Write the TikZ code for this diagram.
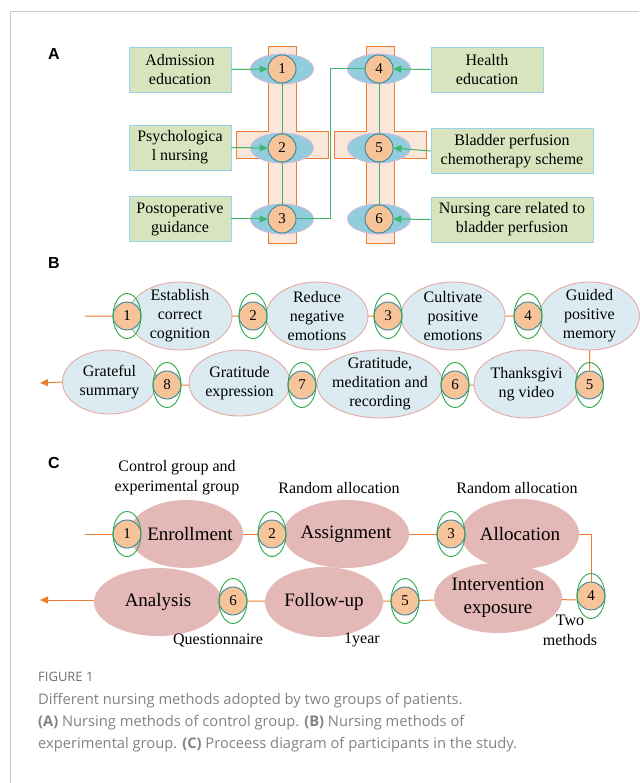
\documentclass[tikz,border=0pt]{standalone}
\usepackage{fontspec}
\setmainfont{Liberation Serif}
\newfontfamily\labfont{Liberation Sans}
\newfontfamily\capfont{Open Sans}
\usetikzlibrary{shapes.geometric,arrows.meta,backgrounds}
\definecolor{boxgreen}{HTML}{D7E4BD}
\definecolor{boxblue}{HTML}{9DD3E6}
\definecolor{crossfill}{HTML}{FBE6DA}
\definecolor{orangeL}{HTML}{ED7D31}
\definecolor{ellblue}{HTML}{93CDDD}
\definecolor{ellrim}{HTML}{D7B7DA}
\definecolor{circfill}{HTML}{F7C499}
\definecolor{circrim}{HTML}{31849B}
\definecolor{gline}{HTML}{3DB56A}
\definecolor{gring}{HTML}{2BAA4A}
\definecolor{bfill}{HTML}{DBEBF1}
\definecolor{brim}{HTML}{E5A9A3}
\definecolor{cfill}{HTML}{E3B8B6}
\definecolor{framegray}{HTML}{CCCCCC}
\definecolor{capgray}{HTML}{808285}
\definecolor{capdark}{HTML}{6D6E71}
\begin{document}
\begin{tikzpicture}[x=1pt,y=-1pt,
 abox/.style={draw=boxblue, fill=boxgreen, line width=0.9pt, inner sep=0, align=center, font=\fontsize{16}{19}\selectfont, minimum height=45},
 aell/.style={ellipse, draw=ellrim, fill=ellblue, line width=0.8pt, minimum width=63, minimum height=30, inner sep=0},
 num/.style={circle, draw=circrim, fill=circfill, line width=0.9pt, minimum size=28, inner sep=0, font=\fontsize{15}{15}\selectfont},
 numring/.style={ellipse, draw=gring, line width=0.9pt, minimum width=28, minimum height=45, inner sep=0},
 garrow/.style={draw=gline, line width=1pt, -{Triangle[length=8pt,width=7pt]}},
 gln/.style={draw=gline, line width=1pt},
 oln/.style={draw=orangeL, line width=1pt},
 oarrow/.style={draw=orangeL, line width=1pt, -{Triangle[length=8pt,width=7pt]}},
 bell/.style={ellipse, draw=brim, fill=bfill, line width=0.9pt, inner sep=0},
 cell/.style={ellipse, fill=cfill, inner sep=0},
 btxt/.style={align=center, font=\fontsize{16}{19}\selectfont, inner sep=0},
 ctxt/.style={align=center, font=\fontsize{19}{23}\selectfont, inner sep=0},
 lbl/.style={align=center, font=\fontsize{16}{20}\selectfont, inner sep=0},
 panel/.style={font=\labfont\bfseries\fontsize{16}{16}\selectfont, inner sep=0},
 crossbar/.style={draw=orangeL, fill=crossfill, line width=1pt},
 captxt/.style={anchor=base west, inner sep=0, text=capgray, font=\capfont\fontsize{14.7}{14.7}\selectfont},
]
\useasboundingbox (0,0) rectangle (639,783);
\draw[framegray, line width=0.8pt] (10,783) -- (10,11) -- (639,11);

% ---------- Panel A ----------
\node[panel] (pa) at (54,54) {A};
\draw[crossbar] (268,47) -- (296,47) -- (296,132) -- (328,132) -- (328,159) -- (296,159) -- (296,244) -- (268,244) -- (268,159) -- (236,159) -- (236,132) -- (268,132) -- cycle;
\draw[crossbar] (366,47) -- (394,47) -- (394,132) -- (426,132) -- (426,159) -- (394,159) -- (394,244) -- (366,244) -- (366,159) -- (334,159) -- (334,132) -- (366,132) -- cycle;

\node[abox, minimum width=102] (a1) at (180,69.5) {Admission\\education};
\node[abox, minimum width=102] (a2) at (180,147.5) {Psychologica\\l nursing};
\node[abox, minimum width=102] (a3) at (180,219) {Postoperative\\guidance};
\node[abox, minimum width=112] (a4) at (487,69.5) {Health\\education};
\node[abox, minimum width=162] (a5) at (512,151) {Bladder perfusion\\chemotherapy scheme};
\node[abox, minimum width=162] (a6) at (512,219.5) {Nursing care related to\\bladder perfusion};

\node[aell] (ea1) at (282,69) {};
\node[aell] (ea2) at (282,148) {};
\node[aell] (ea3) at (282,219) {};
\node[aell] (ea4) at (379,69) {};
\node[aell] (ea5) at (379,148) {};
\node[aell] (ea6) at (379,219) {};
\node[num] (n1) at (ea1) {1};
\node[num] (n2) at (ea2) {2};
\node[num] (n3) at (ea3) {3};
\node[num] (n4) at (ea4) {4};
\node[num] (n5) at (ea5) {5};
\node[num] (n6) at (ea6) {6};

\draw[garrow] (a1.east) -- (n1.west);
\draw[garrow] (a2.east) -- (n2.west);
\draw[garrow] (a3.east) -- (n3.west);
\draw[garrow] (a4.west) -- (n4.east);
\draw[garrow] (a5.west) -- (n5.east);
\draw[garrow] (a6.west) -- (n6.east);
\draw[gln] (n1) -- (n2);
\draw[gln] (n2) -- (n3);
\draw[gln] (n4) -- (n5);
\draw[gln] (n5) -- (n6);
\coordinate (aj) at (330,219);
\draw[gln] (n3.east) -- (aj) |- (n4.west);

% ---------- Panel B ----------
\node[panel] (pb) at (54,263) {B};
\node[bell, minimum width=104, minimum height=68] (E1) at (180,316) {};
\node[bell, minimum width=102, minimum height=68] (E2) at (317,316) {};
\node[bell, minimum width=104, minimum height=68] (E3) at (453,316) {};
\node[bell, minimum width=100, minimum height=68] (E4) at (589.5,316) {};
\node[bell, minimum width=105, minimum height=68] (E5) at (526.5,384) {};
\node[bell, minimum width=126, minimum height=68] (E6) at (380,384) {};
\node[bell, minimum width=101, minimum height=66] (E7) at (239.5,383) {};
\node[bell, minimum width=94, minimum height=64] (E8) at (109.5,382) {};
\node[btxt] (t1) at (E1) {Establish\\correct\\cognition};
\node[btxt] (t2) at (E2) {Reduce\\negative\\emotions};
\node[btxt] (t3) at (E3) {Cultivate\\positive\\emotions};
\node[btxt] (t4) at (E4) {Guided\\positive\\memory};
\node[btxt] (t5) at (E5) {Thanksgivi\\ng video};
\node[btxt] (t6) at (E6) {Gratitude,\\meditation and\\recording};
\node[btxt] (t7) at (E7) {Gratitude\\expression};
\node[btxt] (t8) at (E8) {Grateful\\summary};

\node[num] (b1) at (127,316) {1};
\node[num] (b2) at (253,316) {2};
\node[num] (b3) at (388,316) {3};
\node[num] (b4) at (528,316) {4};
\node[num] (b5) at (589.5,385) {5};
\node[num] (b6) at (455,385) {6};
\node[num] (b7) at (302,385) {7};
\node[num] (b8) at (167,385) {8};
\foreach \i in {1,...,8} { \node[numring] (rb\i) at (b\i) {}; }

\coordinate (bin) at (85,316);
\coordinate (bout) at (40,383);
\begin{pgfonlayer}{background}
\draw[oln] (bin) -- (b1) -- (b2) -- (b3) -- (b4) -- (E4.center) -- (b5) -- (b6) -- (b7) -- (b8) -- (E8.center);
\end{pgfonlayer}
\draw[oarrow] (E8.west) -- (bout);

% ---------- Panel C ----------
\node[panel] (pc) at (54,463) {C};
\node[lbl] (l1) at (177,478) {Control group and\\experimental group};
\node[lbl] (l2) at (339,488) {Random allocation};
\node[lbl] (l3) at (517,488) {Random allocation};

\node[cell, minimum width=114, minimum height=68] (C1) at (186,534) {};
\node[cell, minimum width=126, minimum height=68] (C2) at (346,534) {};
\node[cell, minimum width=118, minimum height=70] (C3) at (520,534) {};
\node[cell, minimum width=128, minimum height=70] (C4) at (498,598) {};
\node[cell, minimum width=118, minimum height=70] (C5) at (324,602) {};
\node[cell, minimum width=128, minimum height=68] (C6) at (158,602) {};
\node[ctxt] (s1) at (C1) {\hspace*{8pt}Enrollment};
\node[ctxt] (s2) at (C2) {Assignment};
\node[ctxt] (s3) at (C3) {Allocation};
\node[ctxt] (s4) at (C4) {Intervention\\exposure};
\node[ctxt] (s5) at (C5) {Follow-up};
\node[ctxt] (s6) at (C6) {Analysis};

\node[num] (d1) at (127,534) {1};
\node[num] (d2) at (272,534) {2};
\node[num] (d3) at (451,534) {3};
\node[num] (d4) at (591,596) {4};
\node[num] (d5) at (405,601) {5};
\node[num] (d6) at (233,601) {6};
\foreach \i in {1,...,6} { \node[numring] (rd\i) at (d\i) {}; }

\node[lbl] (l4) at (218,640) {Questionnaire};
\node[lbl] (l5) at (362,640) {1year};
\node[lbl] (l6) at (570,630) {Two\\methods};

\coordinate (cin) at (85,534);
\coordinate (ccorner) at (591,534);
\coordinate (cout) at (40,600);
\begin{pgfonlayer}{background}
\draw[oln] (cin) -- (d1) -- (d2) -- (d3) -- (ccorner) -- (d4);
\draw[oln] (d4.west |- 0,600) -- (C4.center);
\draw[oln] (C4.center) -- (d5) -- (d6) -- (C6.center);
\end{pgfonlayer}
\draw[oarrow] (C6.west |- 0,600) -- (cout);

% ---------- Caption ----------
\node[captxt, text=capdark, font=\capfont\fontsize{13}{13}\selectfont] (cap0) at (38,681) {FIGURE 1};
\node[captxt] (cap1) at (38,704) {Different nursing methods adopted by two groups of patients.};
\node[captxt] (cap2) at (38,726) {\textbf{(A)} Nursing methods of control group. \textbf{(B)} Nursing methods of};
\node[captxt] (cap3) at (38,748) {experimental group. \textbf{(C)} Proceess diagram of participants in the study.};
\end{tikzpicture}
\end{document}
